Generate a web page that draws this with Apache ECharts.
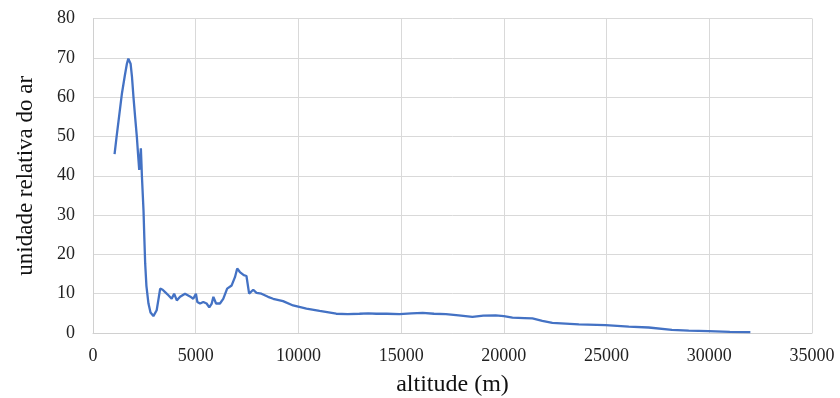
<!DOCTYPE html>
<html>
<head>
<meta charset="utf-8">
<script src="https://cdn.jsdelivr.net/npm/echarts@6/dist/echarts.min.js"></script>
<style>html,body{margin:0;padding:0;background:#fff;}#c{width:840px;height:398px;}</style>
</head>
<body>
<div id="c"></div>
<script>
const altitude = [1050,1150,1245,1410,1550,1650,1720,1770,1830,1900,1970,2050,2135,2200,2250,2290,2330,2360,2380,2460,2500,2540,2600,2700,2800,2940,3100,3200,3270,3390,3510,3670,3830,3950,4080,4240,4480,4720,4880,5010,5080,5210,5370,5530,5660,5780,5860,5990,6180,6340,6530,6750,6910,7020,7150,7340,7470,7600,7800,7960,8200,8520,8770,9250,9740,10390,11030,11840,12400,12970,13400,13790,14300,14920,15500,16050,16600,17180,17800,18470,19000,19600,20000,20420,21000,21390,21870,22360,23000,23650,24950,26080,27050,28180,29000,29960,31000,32000];
const umidade = [45.5,50,54,61,65.5,68.5,69.8,69.9,68.5,65,60,55,49.9,45,41.5,44,47,43,40,31,24,17.7,12,7.5,5.2,4.3,5.8,9,11.3,11,10.4,9.6,8.7,10,8.3,9.2,10,9.3,8.7,10,7.9,7.5,7.9,7.5,6.5,7.5,9.2,7.5,7.5,8.7,11.3,12.1,14.2,16.4,15.5,14.7,14.5,10,11,10.2,10,9.2,8.7,8.1,7,6.2,5.6,4.9,4.8,4.9,5,4.9,4.9,4.8,5,5.1,4.9,4.8,4.5,4.1,4.4,4.5,4.3,3.9,3.8,3.7,3.1,2.6,2.4,2.2,2,1.6,1.4,0.8,0.6,0.5,0.3,0.2];
const xAxisName = 'altitude (m)';
const yAxisName = 'unidade relativa do ar';

const chart = echarts.init(document.getElementById('c'), null, {renderer: 'canvas'});
const font = '"Liberation Serif", "Times New Roman", serif';
chart.setOption({
  animation: false,
  backgroundColor: '#ffffff',
  grid: {left: 93, right: 28, top: 18.5, bottom: 65, containLabel: false, outerBoundsMode: 'none'},
  xAxis: {
    type: 'value', min: 0, max: 35000, interval: 5000,
    name: xAxisName, nameLocation: 'middle', nameGap: 40,
    nameTextStyle: {fontFamily: font, fontSize: 24, color: '#111'},
    axisLine: {show: true, lineStyle: {color: '#d0d0d0', width: 1}},
    axisTick: {show: false},
    axisLabel: {fontFamily: font, fontSize: 18, color: '#222', margin: 14, formatter: v => String(v)},
    splitLine: {show: true, lineStyle: {color: '#d9d9d9', width: 1}}
  },
  yAxis: {
    type: 'value', min: 0, max: 80, interval: 10,
    name: yAxisName, nameLocation: 'middle', nameGap: 56,
    nameTextStyle: {fontFamily: font, fontSize: 23, color: '#111'},
    axisLine: {show: true, lineStyle: {color: '#d0d0d0', width: 1}},
    axisTick: {show: false},
    axisLabel: {fontFamily: font, fontSize: 18, color: '#222', margin: 18},
    splitLine: {show: true, lineStyle: {color: '#d9d9d9', width: 1}}
  },
  series: [{
    type: 'line',
    data: altitude.map((a, i) => [a, umidade[i]]),
    showSymbol: false,
    smooth: false,
    lineStyle: {color: '#4472C4', width: 2.3},
    itemStyle: {color: '#4472C4'}
  }]
});
</script>
</body>
</html>
